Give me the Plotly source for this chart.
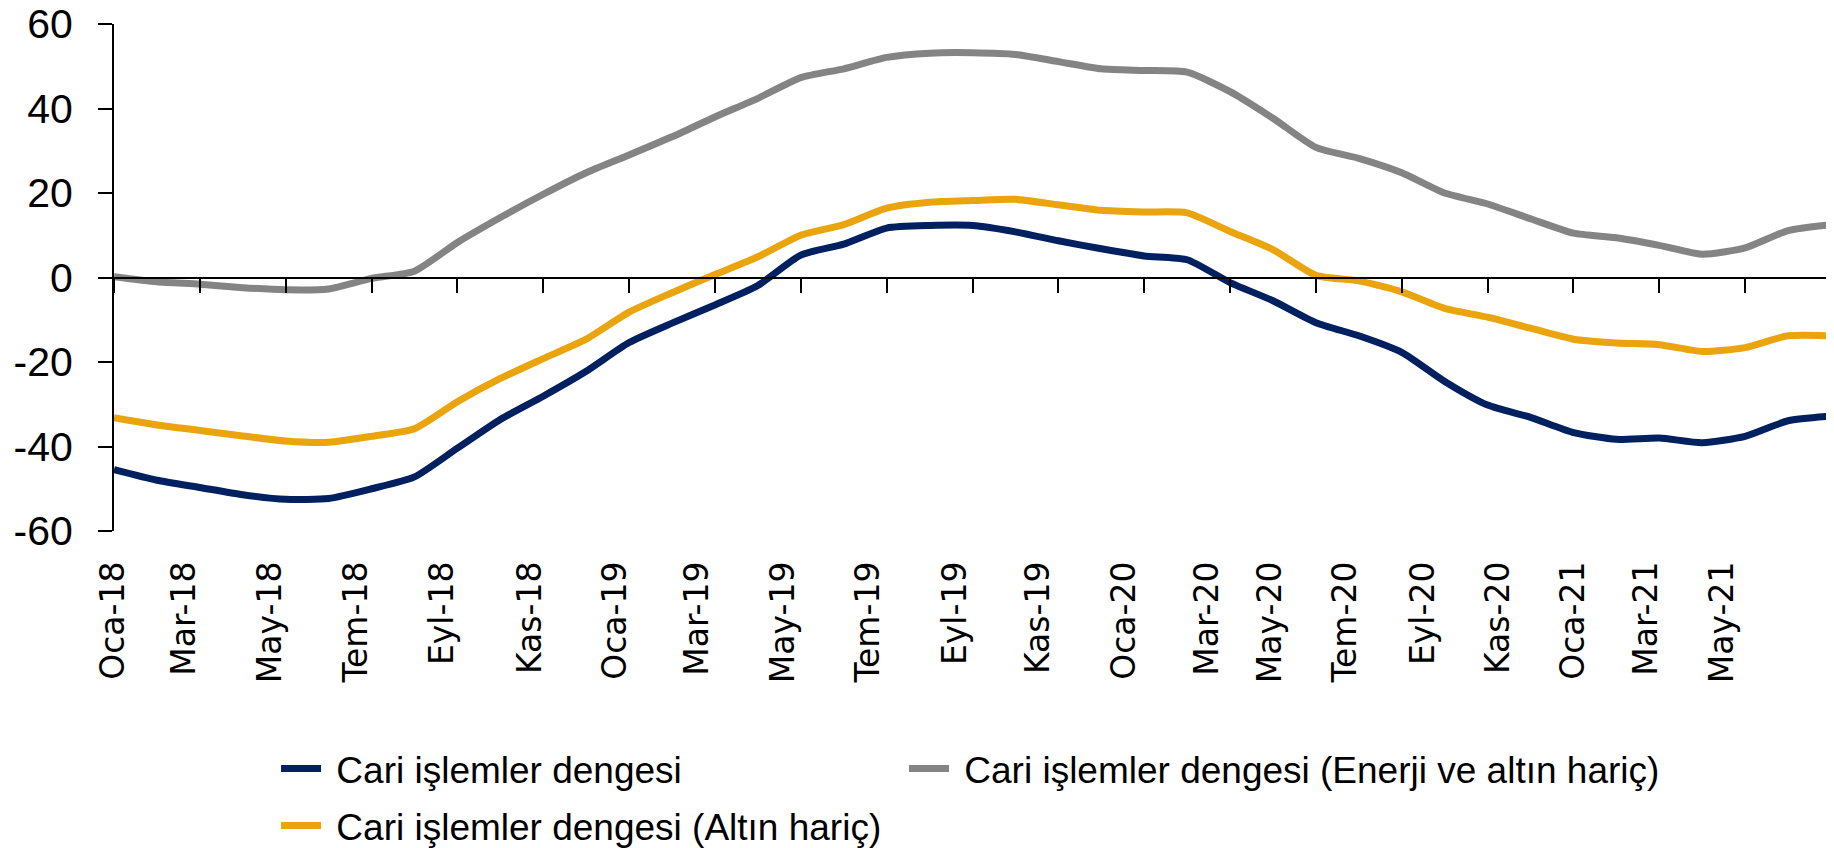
import plotly.graph_objects as go
import numpy as np

# Aylar (Oca-18 ... May-21), aylik veri
ay_adlari = ["Oca", "Şub", "Mar", "Nis", "May", "Haz", "Tem", "Ağu", "Eyl", "Eki", "Kas", "Ara"]
aylar = [f"{ay}-{yil}" for yil in range(18, 22) for ay in ay_adlari][:41]
sira = np.arange(len(aylar))

# Cari işlemler dengesi (milyar $, 12 aylık kümülatif)
cari = [-45.5, -48.0, -49.7, -51.4, -52.5, -52.3, -50.0, -47.2, -40.4, -33.6,
        -28.1, -22.2, -15.4, -10.8, -6.5, -1.9, 5.3, 7.9, 11.7, 12.3,
        12.3, 10.8, 8.7, 6.8, 5.1, 4.2, -1.2, -5.5, -10.7, -13.8,
        -17.7, -24.6, -30.2, -33.1, -36.7, -38.3, -38.0, -39.1, -37.6, -33.9,
        -32.8]
altin_haric = [-33.2, -34.9, -36.2, -37.5, -38.7, -39.0, -37.6, -35.8, -29.4, -23.9,
               -19.2, -14.6, -8.2, -3.6, 0.7, 4.9, 10.0, 12.5, 16.4, 17.8,
               18.2, 18.5, 17.2, 15.9, 15.5, 15.3, 10.9, 6.6, 0.5, -0.8,
               -3.4, -7.3, -9.4, -12.0, -14.6, -15.5, -15.9, -17.5, -16.6, -13.8,
               -13.8]
enerji_altin_haric = [0.2, -1.0, -1.6, -2.4, -2.9, -2.7, -0.2, 1.5, 8.3, 14.2,
                      19.7, 24.8, 29.0, 33.3, 38.0, 42.4, 47.3, 49.4, 52.1, 53.1,
                      53.2, 52.8, 51.1, 49.4, 49.0, 48.6, 44.0, 37.7, 30.8, 28.2,
                      24.8, 20.0, 17.4, 13.9, 10.5, 9.4, 7.6, 5.5, 7.0, 11.1,
                      12.5]

# eksen etiketleri (grafikteki yerleri)
etiketler = ["Oca-18", "Mar-18", "May-18", "Tem-18", "Eyl-18", "Kas-18", "Oca-19",
             "Mar-19", "May-19", "Tem-19", "Eyl-19", "Kas-19", "Oca-20", "Mar-20",
             "May-20", "Tem-20", "Eyl-20", "Kas-20", "Oca-21", "Mar-21", "May-21"]
etiket_yeri = [0, 1.65, 3.67, 5.67, 7.68, 9.71, 11.69, 13.62, 15.62, 17.6, 19.62,
               21.56, 23.55, 25.49, 26.95, 28.7, 30.53, 32.28, 34.03, 35.73, 37.48]
y_degerleri = [-60, -40, -20, 0, 20, 40, 60]

cizgi = dict(width=7, shape="spline", smoothing=0.6)
bosluk = "\u00a0"  # lejantta çizgi ile yazı arası

fig = go.Figure()

fig.add_trace(go.Scatter(
    x=sira, y=cari, name=bosluk + "Cari işlemler dengesi", xaxis="x2",
    mode="lines", line=dict(color="#002060", **cizgi),
    legend="legend", legendgroup="a",
    customdata=aylar, hovertemplate="%{customdata}: %{y}<extra></extra>"
))
fig.add_trace(go.Scatter(
    x=sira, y=enerji_altin_haric, name=bosluk + "Cari işlemler dengesi (Enerji ve altın hariç)",
    mode="lines", line=dict(color="#848484", **cizgi),
    legend="legend2",
    customdata=aylar, hovertemplate="%{customdata}: %{y}<extra></extra>"
))
fig.add_trace(go.Scatter(
    x=sira, y=altin_haric, name=bosluk + "Cari işlemler dengesi (Altın hariç)",
    mode="lines", line=dict(color="#EAA40D", **cizgi),
    legend="legend", legendgroup="b",
    customdata=aylar, hovertemplate="%{customdata}: %{y}<extra></extra>"
))

lejant = dict(xref="container", yref="container", xanchor="left", y=0.131, yanchor="top",
              font=dict(size=37), itemwidth=40, bgcolor="rgba(0,0,0,0)")

# sayfa gövdesinin 8px kenar boşluğu için figür biraz küçük
fig.update_layout(
    width=1826, height=840,
    margin=dict(l=106, r=3, t=16, b=317, autoexpand=False),
    paper_bgcolor="white", plot_bgcolor="white",
    font=dict(family="Liberation Sans, Arial, sans-serif", color="black"),
    xaxis=dict(
        range=[0, 40], tickmode="array", tickvals=etiket_yeri, ticktext=etiketler,
        tickangle=-90, ticks="", showline=False, showgrid=False, zeroline=False,
        tickfont=dict(family="DejaVu Sans, Verdana, sans-serif", size=33),
        ticklabelstandoff=23, ticklabelshift=-1, automargin=False,
        ticklabeloverflow="allow",
    ),
    xaxis2=dict(
        overlaying="x", matches="x", anchor="free", position=0.5,
        tickmode="array", tickvals=list(range(0, 41, 2)), showticklabels=False,
        ticks="outside", ticklen=14, tickwidth=2, tickcolor="black",
        showline=True, linecolor="black", linewidth=2, showgrid=False, zeroline=False,
    ),
    yaxis=dict(
        range=[-60, 60], tickmode="array", tickvals=y_degerleri,
        ticktext=[str(v) for v in y_degerleri],
        ticks="outside", ticklen=14, tickwidth=2, tickcolor="black",
        showline=True, linecolor="black", linewidth=2, showgrid=False, zeroline=False,
        tickfont=dict(size=41), ticklabelstandoff=17, automargin=False,
        ticklabeloverflow="allow",
    ),
    legend=dict(x=0.1468, orientation="v", tracegroupgap=6, traceorder="grouped", **lejant),
    legend2=dict(x=0.4907, orientation="v", **lejant),
    showlegend=True,
)

fig.write_html("out.html")
